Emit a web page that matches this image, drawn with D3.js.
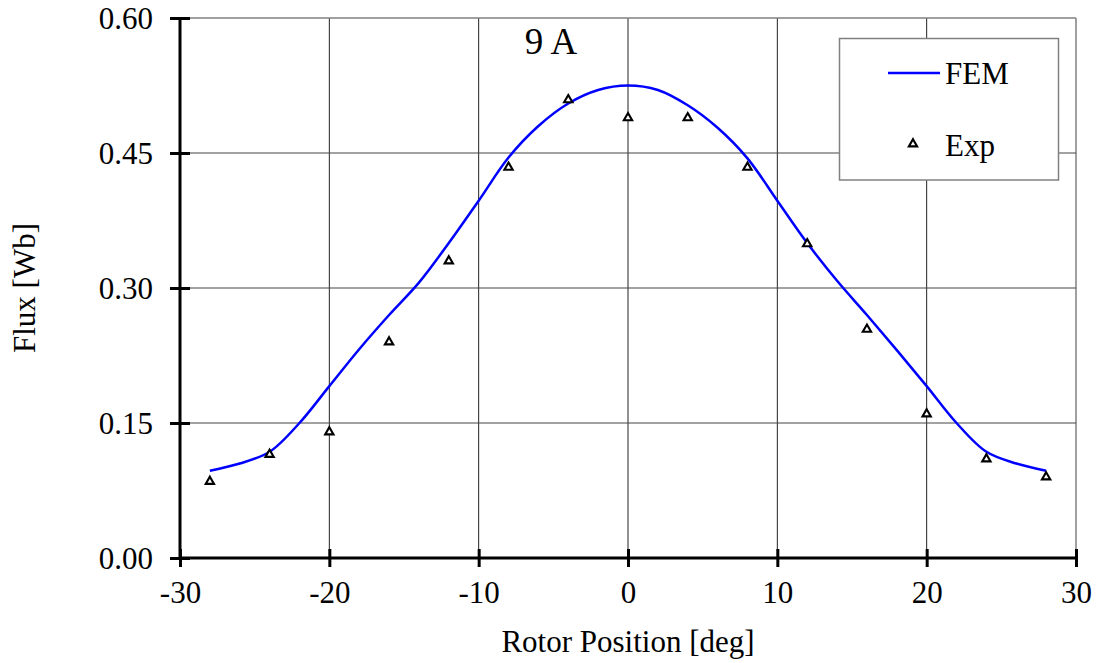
<!DOCTYPE html>
<html><head><meta charset="utf-8">
<script src="https://cdn.jsdelivr.net/npm/d3@7"></script>
<style>body{margin:0;background:#fff}svg{display:block}text{font-family:"Liberation Serif","Times New Roman",serif;fill:#000}</style>
</head><body><svg id="c" width="1101" height="663"></svg>
<script>
const femX = [-28,-26,-24,-22,-20,-18,-16,-14,-12,-10,-8,-6,-4,-2,0,2,4,6,8,10,12,14,16,18,20,22,24,26,28];
const femY = [0.097,0.105,0.118,0.150,0.191,0.232,0.270,0.306,0.350,0.397,0.445,0.480,0.505,0.520,0.525,0.520,0.503,0.478,0.444,0.397,0.350,0.308,0.270,0.231,0.191,0.150,0.118,0.105,0.097];
const expX = [-28,-24,-20,-16,-12,-8,-4,0,4,8,12,16,20,24,28];
const expY = [0.085,0.115,0.140,0.240,0.330,0.434,0.509,0.489,0.489,0.434,0.349,0.254,0.160,0.110,0.090];
const xTicks = [-30,-20,-10,0,10,20,30];
const yTicks = [0,0.15,0.30,0.45,0.60];
const title = "9 A", xLabel = "Rotor Position [deg]", yLabel = "Flux [Wb]";
const seriesNames = ["FEM","Exp"];

const svg = d3.select("#c");
const L=180,R=1076,T=18,B=558;
const x = d3.scaleLinear().domain([-30,30]).range([L,R]);
const y = d3.scaleLinear().domain([0,0.6]).range([B,T]);

// grid
svg.append("g").selectAll("line").data(xTicks.slice(1)).join("line")
  .attr("x1",d=>x(d)).attr("x2",d=>x(d)).attr("y1",T).attr("y2",B)
  .attr("stroke",d=>d===30?"#808080":"#222").attr("stroke-width",d=>d===30?1.5:1);
svg.append("g").selectAll("line").data(yTicks.slice(1)).join("line")
  .attr("x1",L).attr("x2",R).attr("y1",d=>y(d)).attr("y2",d=>y(d))
  .attr("stroke",d=>d===0.6?"#808080":"#444").attr("stroke-width",d=>d===0.6?1.5:1);

// axes
const yAx = svg.append("g").attr("transform",`translate(${L},0)`)
  .call(d3.axisLeft(y).tickValues(yTicks).tickFormat(d3.format(".2f")).tickSize(10).tickPadding(17));
const xAx = svg.append("g").attr("transform",`translate(0,${B})`)
  .call(d3.axisBottom(x).tickValues(xTicks).tickFormat(d=>String(d)).tickSize(9).tickPadding(14));
[yAx,xAx].forEach(g=>{
  g.select(".domain").attr("stroke","#000").attr("stroke-width",3);
  g.selectAll(".tick line").attr("stroke","#000").attr("stroke-width",3);
  g.selectAll("text").style("font-family","Liberation Serif").style("font-size","31px").attr("fill","#000");
});
yAx.select(".domain").attr("d",`M0,${T}V${B}`);
xAx.select(".domain").attr("d",`M${L},0H${R}`);
// cross ticks
yAx.selectAll(".tick line").attr("x1",10);
xAx.selectAll(".tick line").attr("y1",-9);
yAx.selectAll(".tick text").attr("dy","0.33em");
xAx.selectAll(".tick text").attr("dy","0.71em");

// FEM curve
const pts = femX.map((v,i)=>[v,femY[i]]);
svg.append("path").datum(pts)
  .attr("d",d3.line().x(d=>x(d[0])).y(d=>y(d[1])).curve(d3.curveCatmullRom.alpha(0.5)))
  .attr("fill","none").attr("stroke","#0000ff").attr("stroke-width",2.5);

// Exp markers
const tri = d3.symbol().type(d3.symbolTriangle).size(30);
svg.append("g").selectAll("path").data(expX.map((v,i)=>[v,expY[i]])).join("path")
  .attr("d",tri).attr("transform",d=>`translate(${x(d[0])},${y(d[1])})`)
  .attr("fill","#fff").attr("stroke","#000").attr("stroke-width",2.1);

// title
svg.append("text").attr("x",551).attr("y",54).attr("text-anchor","middle").style("font-size","37px").text(title);

// axis labels
svg.append("text").attr("x",(L+R)/2).attr("y",652).attr("text-anchor","middle").style("font-size","31px").text(xLabel);
svg.append("text").attr("transform",`translate(35,${(T+B)/2}) rotate(-90)`).attr("text-anchor","middle").style("font-size","31px").text(yLabel);

// legend
const lg = svg.append("g");
lg.append("rect").attr("x",839.5).attr("y",38.5).attr("width",219).attr("height",141.5)
  .attr("fill","#fff").attr("stroke","#808080").attr("stroke-width",1.5);
lg.append("line").attr("x1",888).attr("x2",940).attr("y1",73).attr("y2",73).attr("stroke","#0000ff").attr("stroke-width",2.5);
lg.append("text").attr("x",945).attr("y",84).style("font-size","31px").text(seriesNames[0]);
lg.append("path").attr("d",tri).attr("transform","translate(913,144)").attr("fill","#fff").attr("stroke","#000").attr("stroke-width",2.1);
lg.append("text").attr("x",945).attr("y",156).style("font-size","31px").text(seriesNames[1]);
</script></body></html>
